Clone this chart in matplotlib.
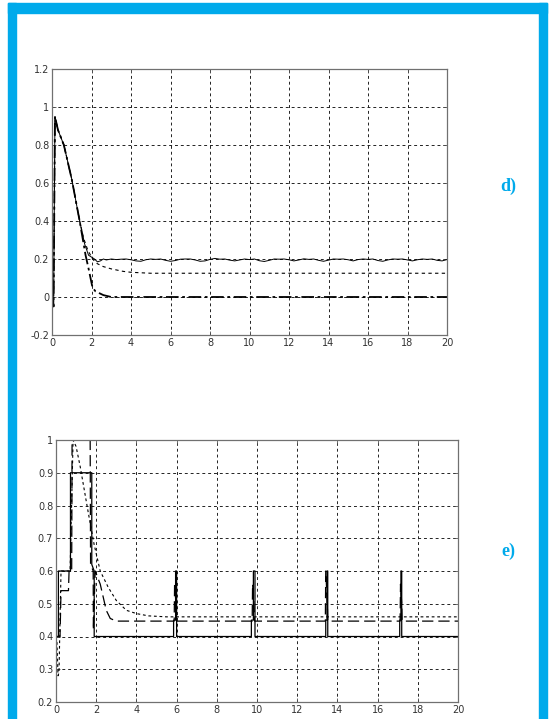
import numpy as np
import matplotlib
matplotlib.use("Agg")
from matplotlib import pyplot as plt
from matplotlib.patches import Rectangle
from matplotlib.ticker import FuncFormatter

plt.rcParams['axes.unicode_minus'] = False

# ---- panel d) : three responses ----
d_fast_t = [0, 0.08, 0.15, 0.3, 0.6, 1.0, 1.4, 1.7, 1.85, 1.95, 2.05, 2.2, 2.6, 3.0, 20]
d_fast_y = [0, -0.05, 0.95, 0.88, 0.8, 0.62, 0.4, 0.22, 0.15, 0.1, 0.05, 0.03, 0.01, 0.0, 0.0]

d_slow_t = [0, 0.08, 0.15, 0.3, 0.6, 1.0, 1.4, 1.6, 1.8, 2.05, 2.3, 2.6, 3.0, 3.6, 4.0, 5.0, 20]
d_slow_y = [0, -0.05, 0.95, 0.88, 0.8, 0.62, 0.4, 0.31, 0.25, 0.2, 0.175, 0.16, 0.148, 0.135, 0.13, 0.125, 0.125]

d_wavy_head_t = [0, 0.08, 0.15, 0.3, 0.6, 1.0, 1.4, 1.65, 1.85, 2.0, 2.15, 2.3, 2.45, 2.6]
d_wavy_head_y = [0, -0.05, 0.95, 0.88, 0.8, 0.62, 0.4, 0.28, 0.22, 0.21, 0.2, 0.185, 0.19, 0.2]
d_wavy_tail_y = [0.195, 0.2, 0.197, 0.199, 0.2, 0.196, 0.19, 0.188, 0.196, 0.2,
                 0.198, 0.2, 0.193, 0.188, 0.192, 0.199, 0.2, 0.2, 0.195, 0.188,
                 0.19, 0.198, 0.203, 0.199, 0.2, 0.194, 0.19, 0.195, 0.2, 0.197,
                 0.2, 0.191, 0.187, 0.193, 0.2, 0.199, 0.2, 0.196, 0.19, 0.195,
                 0.201, 0.198, 0.2, 0.193, 0.188, 0.194, 0.2, 0.199, 0.2, 0.196,
                 0.19, 0.197, 0.2, 0.198, 0.2, 0.192, 0.188, 0.195, 0.2, 0.199,
                 0.2, 0.195, 0.19, 0.196, 0.2, 0.198, 0.2, 0.193, 0.19, 0.197]

# ---- panel e) ----
e_solid_t = [0, 0.12, 0.12, 0.72, 0.72, 1.78, 1.78, 1.9, 1.9,
             5.85, 5.85, 5.95, 5.95, 6.0, 6.0,
             9.72, 9.72, 9.82, 9.82, 9.9, 9.9,
             13.42, 13.42, 13.48, 13.48, 13.52, 13.52,
             17.1, 17.1, 17.16, 17.16, 17.2, 17.2, 20]
e_solid_y = [0.4, 0.4, 0.6, 0.6, 0.9, 0.9, 0.62, 0.6, 0.4,
             0.4, 0.45, 0.45, 0.6, 0.6, 0.4,
             0.4, 0.45, 0.45, 0.6, 0.6, 0.4,
             0.4, 0.45, 0.45, 0.6, 0.6, 0.4,
             0.4, 0.45, 0.45, 0.6, 0.6, 0.4, 0.4]

e_long_t = [0, 0.2, 0.25, 0.62, 0.65, 0.78, 0.8, 1.7, 1.72, 1.85, 1.86, 1.95,
            2.2, 2.35, 2.5, 2.7, 3.0,
            5.88, 5.9, 5.97, 6.0, 9.76, 9.78, 9.85, 9.88,
            13.4, 13.42, 13.5, 13.52, 17.12, 17.14, 17.2, 17.22, 20]
e_long_y = [0.4, 0.4, 0.54, 0.54, 0.6, 0.6, 1.0, 1.0, 0.62, 0.6, 0.42, 0.6,
            0.56, 0.52, 0.48, 0.455, 0.447,
            0.447, 0.56, 0.5, 0.447, 0.447, 0.56, 0.5, 0.447,
            0.447, 0.6, 0.5, 0.447, 0.447, 0.56, 0.5, 0.447, 0.447]

e_short_t = [0, 0.05, 0.1, 0.15, 0.2, 0.25, 0.7, 0.85, 1.0, 1.2, 1.6, 1.9, 2.2,
             2.6, 3.0, 3.5, 4.0, 4.6, 5.5, 20]
e_short_y = [0.4, 0.38, 0.28, 0.29, 0.45, 0.6, 0.6, 1.0, 0.98, 0.92, 0.78, 0.68, 0.6,
             0.55, 0.51, 0.48, 0.47, 0.463, 0.46, 0.46]

d_yticks = [-0.2, 0, 0.2, 0.4, 0.6, 0.8, 1.0, 1.2]
e_yticks = [0.2, 0.3, 0.4, 0.5, 0.6, 0.7, 0.8, 0.9, 1.0]
xticks = [0, 2, 4, 6, 8, 10, 12, 14, 16, 18, 20]

frame_col = "#00aaeb"


def style_axes(ax, yticks):
	ax.set_xlim(0, 20)
	ax.set_ylim(yticks[0], yticks[-1])
	ax.set_xticks(xticks)
	ax.set_yticks(yticks)
	fmt = FuncFormatter(lambda v, p: "%g" % round(v, 3))
	ax.xaxis.set_major_formatter(fmt)
	ax.yaxis.set_major_formatter(fmt)
	ax.tick_params(direction="in", length=3, width=0.6, labelsize=7,
	               colors="#555555", labelcolor="#333333", top=True, right=True, pad=2)
	ax.grid(True, color="#222222", linestyle=(0, (3, 3)), linewidth=0.7)
	for s in ax.spines.values():
		s.set_color("#707070")
		s.set_linewidth(0.9)


fig = plt.figure(figsize=(5.51, 7.19), dpi=100)

# cadre cyan (haut, gauche, droite)
W, H = 551.0, 719.0
fig.patches.append(Rectangle((8 / W, 1 - 13 / H), (547 - 8) / W, 10 / H,
                             transform=fig.transFigure, color=frame_col, zorder=0))
fig.patches.append(Rectangle((8 / W, 0), 8 / W, 1 - 3 / H,
                             transform=fig.transFigure, color=frame_col, zorder=0))
fig.patches.append(Rectangle((539 / W, 0), 8 / W, 1 - 3 / H,
                             transform=fig.transFigure, color=frame_col, zorder=0))

ax1 = fig.add_axes([52 / W, 1 - 335 / H, (447 - 52) / W, (335 - 69) / H])
style_axes(ax1, d_yticks)
tail_t = np.linspace(2.75, 20, len(d_wavy_tail_y))
ax1.plot(d_wavy_head_t + list(tail_t), d_wavy_head_y + d_wavy_tail_y,
         color="black", linewidth=0.7)
ax1.plot(d_slow_t, d_slow_y, color="black", linewidth=0.8, linestyle=(0, (3, 3)))
ax1.plot(d_fast_t, d_fast_y, color="black", linewidth=1.3, linestyle=(0, (7, 2, 1.5, 2)))

ax2 = fig.add_axes([56 / W, 1 - 702 / H, (458 - 56) / W, (702 - 440) / H])
style_axes(ax2, e_yticks)
ax2.plot(e_solid_t, e_solid_y, color="black", linewidth=0.9)
ax2.plot(e_long_t, e_long_y, color="black", linewidth=0.9, linestyle=(0, (9, 4)))
ax2.plot(e_short_t, e_short_y, color="black", linewidth=0.8, linestyle=(0, (2.5, 2.5)))

fig.text(508 / W, 1 - 186 / H, "d)", color=frame_col, fontsize=13, fontweight="bold",
         family="Liberation Serif", ha="center", va="center")
fig.text(508 / W, 1 - 551 / H, "e)", color=frame_col, fontsize=13, fontweight="bold",
         family="Liberation Serif", ha="center", va="center")

fig.savefig("out.png", dpi=100)
